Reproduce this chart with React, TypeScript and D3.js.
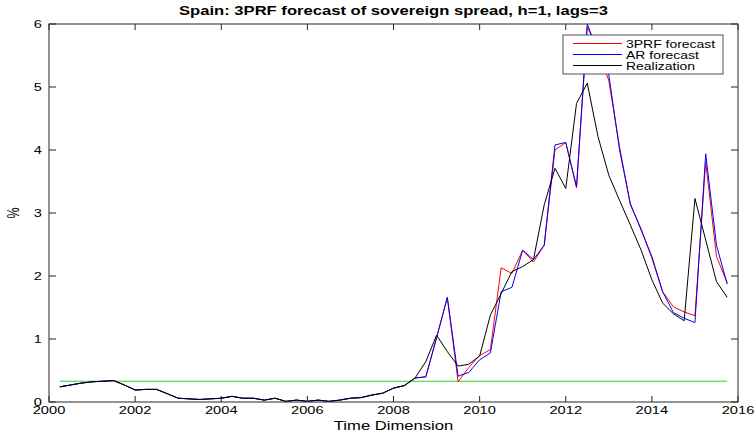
import React from "react";
import * as d3 from "d3";

// quarterly observation dates (decimal years)
const dates: number[] = [
  2000.25, 2000.5, 2000.75,
  2001.0, 2001.25, 2001.5, 2001.75,
  2002.0, 2002.25, 2002.5, 2002.75,
  2003.0, 2003.25, 2003.5, 2003.75,
  2004.0, 2004.25, 2004.5, 2004.75,
  2005.0, 2005.25, 2005.5, 2005.75,
  2006.0, 2006.25, 2006.5, 2006.75,
  2007.0, 2007.25, 2007.5, 2007.75,
  2008.0, 2008.25, 2008.5, 2008.75,
  2009.0, 2009.25, 2009.5, 2009.75,
  2010.0, 2010.25, 2010.5, 2010.75,
  2011.0, 2011.25, 2011.5, 2011.75,
  2012.0, 2012.25, 2012.5, 2012.75,
  2013.0, 2013.25, 2013.5, 2013.75,
  2014.0, 2014.25, 2014.5, 2014.75,
  2015.0, 2015.25, 2015.5, 2015.75,
];

const realization: number[] = [
  0.24, 0.27, 0.3,
  0.32, 0.33, 0.34, 0.27,
  0.19, 0.2, 0.2, 0.13,
  0.06, 0.05, 0.04, 0.05,
  0.06, 0.09, 0.06, 0.06,
  0.03, 0.06, 0.01, 0.03,
  0.01, 0.03, 0.01, 0.03,
  0.06, 0.07, 0.11, 0.14,
  0.22, 0.26, 0.38, 0.64,
  1.06, 0.8, 0.57, 0.6,
  0.73, 1.38, 1.72, 2.07,
  2.15, 2.26, 3.13, 3.71,
  3.39, 4.74, 5.06, 4.21,
  3.6, 3.2, 2.81, 2.41,
  1.94, 1.57, 1.4, 1.29,
  3.23, 2.57, 1.91, 1.66,
];

const arForecast: number[] = [
  0.24, 0.27, 0.3,
  0.32, 0.33, 0.34, 0.27,
  0.19, 0.2, 0.2, 0.13,
  0.06, 0.05, 0.04, 0.05,
  0.06, 0.09, 0.06, 0.06,
  0.03, 0.06, 0.01, 0.03,
  0.01, 0.03, 0.01, 0.03,
  0.06, 0.07, 0.11, 0.14,
  0.22, 0.26, 0.38, 0.4,
  1.02, 1.66, 0.41, 0.47,
  0.67, 0.78, 1.75, 1.82,
  2.41, 2.26, 2.49, 4.08,
  4.12, 3.42, 6.0, 5.55,
  5.19, 4.0, 3.15, 2.73,
  2.31, 1.75, 1.42, 1.33,
  1.26, 3.94, 2.49, 1.87,
];

const prfForecast: number[] = [
  0.24, 0.27, 0.3,
  0.32, 0.33, 0.34, 0.27,
  0.19, 0.2, 0.2, 0.13,
  0.06, 0.05, 0.04, 0.05,
  0.06, 0.09, 0.06, 0.06,
  0.03, 0.06, 0.01, 0.03,
  0.01, 0.03, 0.01, 0.03,
  0.06, 0.07, 0.11, 0.14,
  0.22, 0.26, 0.38, 0.4,
  1.02, 1.66, 0.32, 0.55,
  0.74, 0.83, 2.13, 2.04,
  2.41, 2.22, 2.49, 4.0,
  4.12, 3.4, 5.95, 5.6,
  5.1, 4.05, 3.13, 2.75,
  2.28, 1.75, 1.51, 1.43,
  1.37, 3.81, 2.31, 1.89,
];

const meanLevel: number[] = [0.33];

const xTicks: number[] = [2000, 2002, 2004, 2006, 2008, 2010, 2012, 2014, 2016];
const yTicks: number[] = [0, 1, 2, 3, 4, 5, 6];

const legendLabels: string[] = ["3PRF forecast", "AR forecast", "Realization"];
const legendColors: string[] = ["#ff0000", "#0000ff", "#000000"];

const W = 755;
const H = 435;
const M = { left: 49, right: 17, top: 24, bottom: 33 };
const FONT = "'Liberation Sans', Arial, Helvetica, sans-serif";
const SX = 1.33; // horizontal stretch of the resampled original figure

function SText(props: {
  x: number;
  y: number;
  size: number;
  anchor?: "start" | "middle" | "end";
  bold?: boolean;
  rotate?: number;
  sx?: number;
  children: React.ReactNode;
}) {
  const { x, y, size, anchor = "start", bold, rotate, sx = SX, children } = props;
  const tr = `translate(${x},${y}) scale(${sx},1)` + (rotate ? ` rotate(${rotate})` : "");
  return (
    <text
      transform={tr}
      x={0}
      y={0}
      textAnchor={anchor}
      fontSize={size}
      fontWeight={bold ? "bold" : "normal"}
      fill="#000"
    >
      {children}
    </text>
  );
}

export default function App() {
  const x = d3.scaleLinear().domain([2000, 2016]).range([M.left, W - M.right]);
  const y = d3.scaleLinear().domain([0, 6]).range([H - M.bottom, M.top]);
  const line = (vals: number[]) =>
    d3
      .line<number>()
      .x((_, i) => x(dates[i]))
      .y((d) => y(d))(vals) as string;

  const x0 = x.range()[0];
  const x1 = x.range()[1];
  const y0 = y.range()[0];
  const y1 = y.range()[1];
  const tlx = 6; // length of ticks on x axis (vertical)
  const tly = 7; // length of ticks on y axis (horizontal)
  const axisColor = "#262626";

  const legX = 563;
  const legY = 35;
  const legW = 160;
  const legH = 39;

  return (
    <svg
      width={W}
      height={H}
      style={{ position: "absolute", left: 0, top: 0, background: "#fff" }}
      fontFamily={FONT}
    >
      <rect x={0} y={0} width={W} height={H} fill="#fff" />
      <defs>
        <clipPath id="plotclip">
          <rect x={x0} y={y1} width={x1 - x0} height={y0 - y1} />
        </clipPath>
      </defs>

      <g clipPath="url(#plotclip)" fill="none" strokeWidth={1}>
        <line
          x1={x(dates[0])}
          x2={x(dates[dates.length - 1])}
          y1={y(meanLevel[0])}
          y2={y(meanLevel[0])}
          stroke="#22dd22"
        />
        <path d={line(prfForecast)} stroke="#ff0000" />
        <path d={line(arForecast)} stroke="#0000ff" />
        <path d={line(realization)} stroke="#000000" />
      </g>

      {/* axes box */}
      <rect x={x0} y={y1} width={x1 - x0} height={y0 - y1} fill="none" stroke={axisColor} strokeWidth={1} />

      {xTicks.map((t) => (
        <g key={"x" + t}>
          <line x1={x(t)} x2={x(t)} y1={y0} y2={y0 - tlx} stroke={axisColor} />
          <line x1={x(t)} x2={x(t)} y1={y1} y2={y1 + tlx} stroke={axisColor} />
          <SText x={x(t)} y={y0 + 12} size={11} anchor="middle">
            {t}
          </SText>
        </g>
      ))}
      {yTicks.map((t) => (
        <g key={"y" + t}>
          <line x1={x0} x2={x0 + tly} y1={y(t)} y2={y(t)} stroke={axisColor} />
          <line x1={x1} x2={x1 - tly} y1={y(t)} y2={y(t)} stroke={axisColor} />
          <SText x={x0 - 7} y={y(t) + 4} size={11} anchor="end">
            {t}
          </SText>
        </g>
      ))}

      <SText x={(x0 + x1) / 2} y={15} size={12.5} anchor="middle" bold>
        Spain: 3PRF forecast of sovereign spread, h=1, lags=3
      </SText>
      <SText x={(x0 + x1) / 2} y={430} size={12.5} anchor="middle">
        Time Dimension
      </SText>
      <SText x={19} y={(y0 + y1) / 2} size={12.5} anchor="middle" rotate={-90}>
        %
      </SText>

      {/* legend */}
      <rect x={legX} y={legY} width={legW} height={legH} fill="#fff" stroke={axisColor} strokeWidth={0.8} />
      {legendLabels.map((label, i) => (
        <g key={label}>
          <line
            x1={legX + 10}
            x2={legX + 59}
            y1={legY + 8.5 + i * 11}
            y2={legY + 8.5 + i * 11}
            stroke={legendColors[i]}
            strokeWidth={1}
          />
          <SText x={legX + 63} y={legY + 12.5 + i * 11} size={10.5}>
            {label}
          </SText>
        </g>
      ))}
    </svg>
  );
}
